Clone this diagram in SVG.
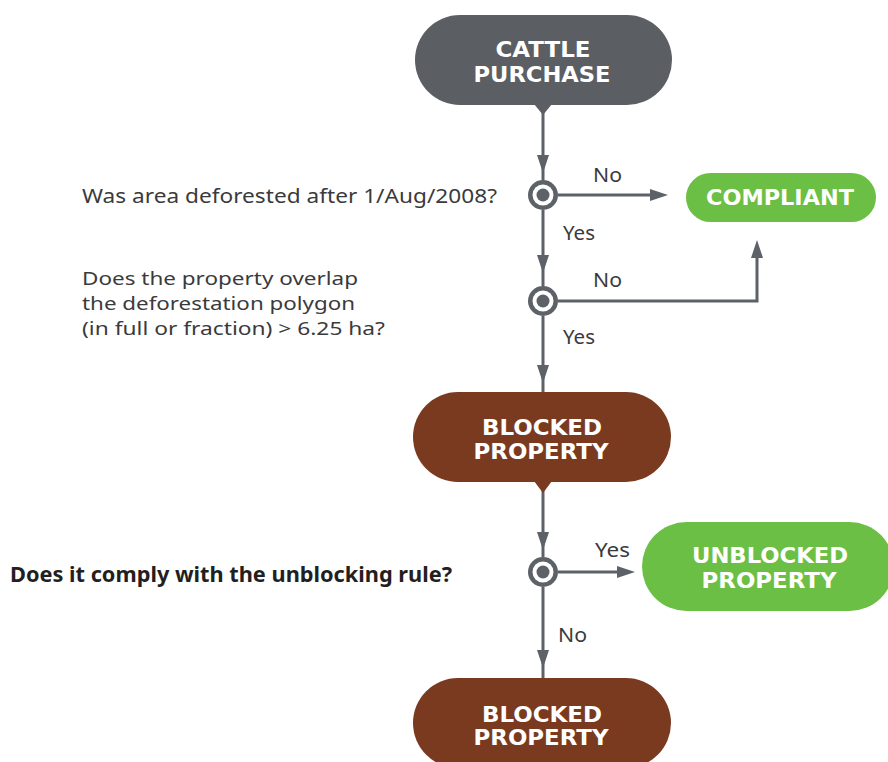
<svg xmlns="http://www.w3.org/2000/svg" width="888" height="762" viewBox="0 0 888 762">
<style>
.pill-t{font-family:"DejaVu Sans","Liberation Sans",sans-serif;font-weight:bold;font-size:22px;fill:#ffffff;text-anchor:middle}
.q{font-family:"Noto Sans","Liberation Sans",sans-serif;font-size:20px;fill:#3a3a3c}
.q2{font-family:"Noto Sans","Liberation Sans",sans-serif;font-size:18.2px;fill:#3a3a3c}
.qb{font-family:"Noto Sans","Liberation Sans",sans-serif;font-size:20.5px;font-weight:bold;fill:#231f20}
.lbl{font-family:"Noto Sans","Liberation Sans",sans-serif;font-size:20px;fill:#3a3a3c}
.ln{stroke:#5d6168;stroke-width:3;fill:none}
.ah{fill:#5d6168}
.gray{fill:#5b5e63}
.brown{fill:#7a3a1f}
.green{fill:#6cbf45}
</style>
<defs>
<g id="dec">
<circle r="15" fill="#5d6168"/>
<circle r="10.5" fill="#ffffff"/>
<circle r="6.5" fill="#5d6168"/>
</g>
</defs>
<rect width="888" height="762" fill="#ffffff"/>

<g id="connectors">
<line class="ln" x1="543" y1="110" x2="543" y2="180"/>
<polygon class="ah" points="537,155 549,155 543,173"/>
<line class="ln" x1="558" y1="195" x2="655" y2="195"/>
<polygon class="ah" points="650,189 650,201 668,195"/>
<line class="ln" x1="543" y1="210" x2="543" y2="286"/>
<polygon class="ah" points="537,255 549,255 543,273"/>
<polyline class="ln" points="558,301 757,301 757,253"/>
<polygon class="ah" points="751,258 763,258 757,240"/>
<line class="ln" x1="543" y1="316" x2="543" y2="392"/>
<polygon class="ah" points="537,365 549,365 543,383"/>
<line class="ln" x1="543" y1="490" x2="543" y2="557"/>
<polygon class="ah" points="537,532 549,532 543,550"/>
<line class="ln" x1="558" y1="572" x2="622" y2="572"/>
<polygon class="ah" points="617,566 617,578 635,572"/>
<line class="ln" x1="543" y1="587" x2="543" y2="678"/>
<polygon class="ah" points="537,650 549,650 543,668"/>
<text class="lbl" x="593" y="182" textLength="29" lengthAdjust="spacingAndGlyphs">No</text>
<text class="lbl" x="563" y="240" textLength="32" lengthAdjust="spacingAndGlyphs">Yes</text>
<text class="lbl" x="593" y="287" textLength="29" lengthAdjust="spacingAndGlyphs">No</text>
<text class="lbl" x="563" y="344" textLength="32" lengthAdjust="spacingAndGlyphs">Yes</text>
<text class="lbl" x="595" y="557" textLength="35" lengthAdjust="spacingAndGlyphs">Yes</text>
<text class="lbl" x="558" y="642" textLength="29" lengthAdjust="spacingAndGlyphs">No</text>
</g>

<g id="cattle-purchase">
<rect class="gray" x="415" y="15" width="257" height="90" rx="45"/>
<polygon class="gray" points="534,104 552,104 543,115"/>
<text class="pill-t" x="543" y="57" textLength="95" lengthAdjust="spacingAndGlyphs">CATTLE</text>
<text class="pill-t" x="542" y="82" textLength="137" lengthAdjust="spacingAndGlyphs">PURCHASE</text>
</g>

<g id="decision-1">
<use href="#dec" x="543" y="195"/>
<text class="q" x="82" y="203" textLength="415" lengthAdjust="spacingAndGlyphs">Was area deforested after 1/Aug/2008?</text>
</g>

<g id="compliant">
<rect class="green" x="686" y="173" width="190" height="49" rx="24.5"/>
<text class="pill-t" x="780" y="205" textLength="148" lengthAdjust="spacingAndGlyphs">COMPLIANT</text>
</g>

<g id="decision-2">
<use href="#dec" x="543" y="301"/>
<text class="q2" x="82" y="285" textLength="276" lengthAdjust="spacingAndGlyphs">Does the property overlap</text>
<text class="q2" x="82" y="310" textLength="273" lengthAdjust="spacingAndGlyphs">the deforestation polygon</text>
<text class="q2" x="82" y="335" textLength="303" lengthAdjust="spacingAndGlyphs">(in full or fraction) &gt; 6.25 ha?</text>
</g>

<g id="blocked-property-1">
<rect class="brown" x="413" y="392" width="258" height="90" rx="45"/>
<polygon class="brown" points="534,481 552,481 543,493"/>
<text class="pill-t" x="542" y="435" textLength="120" lengthAdjust="spacingAndGlyphs">BLOCKED</text>
<text class="pill-t" x="541" y="459" textLength="135" lengthAdjust="spacingAndGlyphs">PROPERTY</text>
</g>

<g id="decision-3">
<use href="#dec" x="543" y="572"/>
<text class="qb" x="10" y="582" textLength="442" lengthAdjust="spacingAndGlyphs">Does it comply with the unblocking rule?</text>
</g>

<g id="unblocked-property">
<rect class="green" x="642" y="522" width="252" height="89" rx="44.5"/>
<text class="pill-t" x="770" y="563" textLength="156" lengthAdjust="spacingAndGlyphs">UNBLOCKED</text>
<text class="pill-t" x="769" y="588" textLength="135" lengthAdjust="spacingAndGlyphs">PROPERTY</text>
</g>

<g id="blocked-property-2">
<rect class="brown" x="413" y="678" width="258" height="90" rx="45"/>
<text class="pill-t" x="542" y="722" textLength="120" lengthAdjust="spacingAndGlyphs">BLOCKED</text>
<text class="pill-t" x="541" y="745" textLength="135" lengthAdjust="spacingAndGlyphs">PROPERTY</text>
</g>
</svg>
